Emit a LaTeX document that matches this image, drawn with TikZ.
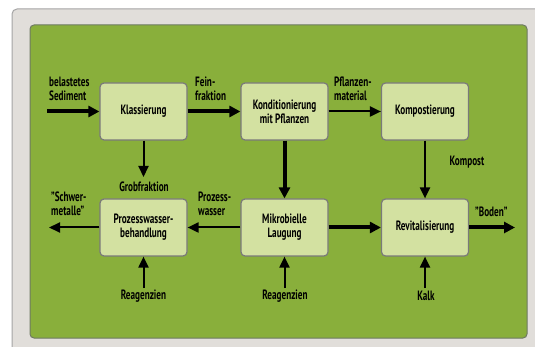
\documentclass[tikz,border=0pt]{standalone}
\usepackage{fontspec}
\setmainfont{PT Sans}[FakeStretch=0.68]
\usetikzlibrary{arrows.meta}
\definecolor{outerbg}{HTML}{E1DEDA}
\definecolor{outerln}{HTML}{A5A5A5}
\definecolor{greenbg}{HTML}{89AF3B}
\definecolor{greenln}{HTML}{6E7A62}
\definecolor{boxbg}{HTML}{D3E1A1}
\definecolor{boxln}{HTML}{7A7A7A}
\tikzset{
  procbox/.style={draw=boxln, line width=1.2pt, fill=boxbg, rounded corners=4pt,
    minimum width=87pt, minimum height=57pt, align=center, inner sep=2pt,
    font=\bfseries\fontsize{13.5}{14}\selectfont},
  lbl/.style={inner sep=0pt, font=\bfseries\fontsize{13.5}{14}\selectfont},
  thickarr/.style={line width=4pt, -{Triangle[length=11pt,width=11pt]}},
  thinarr/.style={line width=2pt, -{Triangle[length=11pt,width=10pt]}},
}
\begin{document}
\begin{tikzpicture}[x=1pt,y=-1pt]
\useasboundingbox (0,0) rectangle (535,347);
\begin{scope}
\clip (0,0) rectangle (535,347);
\fill[white] (0,0) rectangle (535,347);
\draw[outerln, fill=outerbg, line width=1pt, rounded corners=5pt] (12,9) rectangle (560,370);
\end{scope}
\draw[greenln, fill=greenbg, line width=1pt, rounded corners=4pt] (30,25) rectangle (527,338);

\node[procbox] (kl) at (143.5,111.5) {Klassierung};
\node[procbox] (ko) at (284.5,111.5) {Konditionierung\\mit Pflanzen};
\node[procbox] (kp) at (425,111.5) {Kompostierung};
\node[procbox] (pw) at (143.5,227.5) {Prozesswasser-\\behandlung};
\node[procbox] (ml) at (284.5,227.5) {Mikrobielle\\Laugung};
\node[procbox] (rv) at (425,227.5) {Revitalisierung};

\coordinate (in) at (47,111.5);
\coordinate (gf) at (143.5,177);
\coordinate (sm) at (49,227.5);
\coordinate (bd) at (515,227.5);
\coordinate (r1) at (143.5,288);
\coordinate (r2) at (284.5,288);
\coordinate (r3) at (425,288);

\draw[thickarr] (in) -- (kl.west);
\draw[thickarr] (kl.east) -- (ko.west);
\draw[thinarr] (ko.east) -- (kp.west);
\draw[thinarr] (kl.south) -- (gf);
\draw[thickarr] (ko.south) -- (ml.north);
\draw[thinarr] (kp.south) -- (rv.north);
\draw[thinarr] (ml.west) -- (pw.east);
\draw[thinarr] (pw.west) -- (sm);
\draw[thickarr] (ml.east) -- (rv.west);
\draw[thickarr] (rv.east) -- (bd);
\draw[thinarr] (r1) -- (pw.south);
\draw[thinarr] (r2) -- (ml.south);
\draw[thinarr] (r3) -- (rv.south);

\node[lbl, anchor=west, align=left] (l1) at (49,89) {belastetes\\Sediment};
\node[lbl, anchor=west, align=left] (l2) at (195,89) {Fein-\\fraktion};
\node[lbl, anchor=west, align=left] (l3) at (334,89) {Pflanzen-\\material};
\node[lbl] (l4) at (144,187) {Grobfraktion};
\node[lbl] (l5) at (467,162) {Kompost};
\node[lbl, anchor=west, align=left] (l6) at (51,204) {"Schwer-\\metalle"};
\node[lbl, anchor=west, align=left] (l7) at (198,204) {Prozess-\\wasser};
\node[lbl, anchor=west] (l8) at (475,212) {"Boden"};
\node[lbl] (l9) at (143.5,296) {Reagenzien};
\node[lbl] (l10) at (285,296) {Reagenzien};
\node[lbl] (l11) at (426,296) {Kalk};
\end{tikzpicture}
\end{document}
